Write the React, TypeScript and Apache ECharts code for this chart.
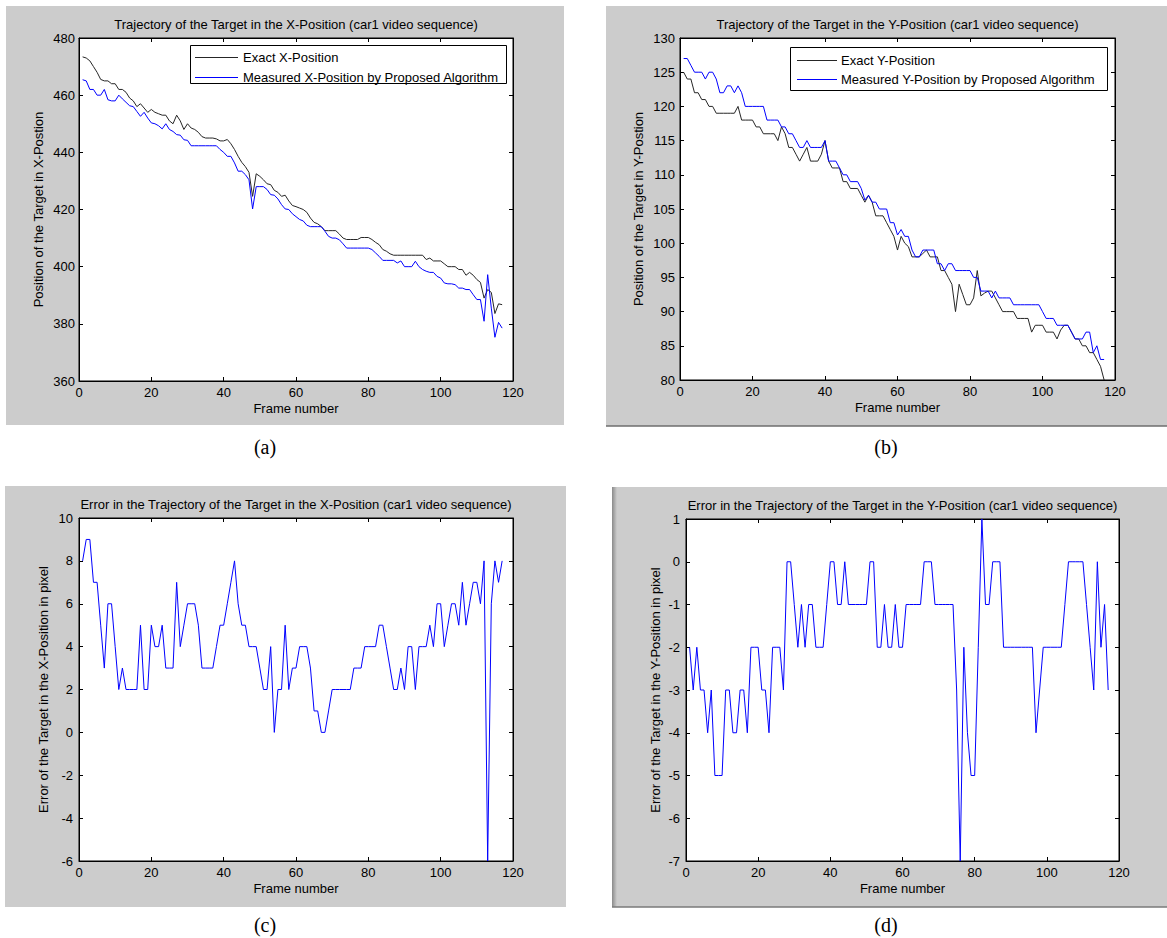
import React, { useEffect, useRef } from "react";
import * as echarts from "echarts";

// ---------------- data (frame numbers 1..117) ----------------
const exactX = [
  473.4, 473, 472, 470, 468, 465.5, 465, 465, 464, 464,
  462, 462, 461, 459, 458, 456, 457, 455.5, 454, 455,
  454, 453.5, 453, 453, 451, 450, 453, 451, 448, 450,
  448.5, 448, 447, 445.5, 445, 445, 445, 444.7, 444, 444,
  444.5, 443, 441, 438.6, 436.5, 435, 433, 424.6, 432.5, 431.6,
  430.4, 429, 428.7, 426.7, 426, 424.6, 425, 423, 421.4, 421,
  420.5, 420, 419, 417, 415.5, 415, 414, 412.6, 412.6, 412.6,
  412.6, 411.4, 410, 409.5, 409.5, 409.5, 409.5, 410.2, 410.2, 410.2,
  409.5, 408.5, 407.7, 406, 405.4, 404.5, 404, 404, 404, 404,
  404, 404, 404, 404, 404, 402.5, 403, 402, 402, 402,
  401, 400, 400, 400, 399, 399, 397, 398, 397, 395.5,
  394.5, 389, 392, 391, 383.6, 387, 386.7,
];
const measuredX = [
  465.4, 465, 462, 462, 460, 460, 462, 458.4, 458, 458,
  460, 458.7, 457.5, 456.3, 456, 454.3, 452.6, 454, 452, 450.3,
  450, 449.3, 448.2, 450, 448, 447.3, 446.2, 446, 444.4, 444.2,
  442.3, 442.3, 442.3, 442.3, 442.3, 442.3, 442.3, 442.3, 441, 440,
  438.6, 438.6, 436.3, 433.4, 433.4, 432.2, 430.4, 420.2, 428, 428,
  428, 427, 425.2, 425, 423.7, 421.7, 420.2, 420, 418.5, 417.5,
  416.5, 416, 414.5, 414, 414, 414, 414, 412.4, 410.6, 410,
  410, 409.4, 408, 406.5, 406.5, 406.5, 406.5, 406.5, 406.5, 406.5,
  406, 404.8, 403.6, 402.2, 402.2, 402.2, 402.2, 401.3, 402, 400,
  400, 400, 401.9, 400, 399, 398.4, 398, 398, 396.6, 396,
  394.3, 394, 394, 393.7, 392.5, 392.5, 392, 392, 390.2, 388.5,
  388.5, 380.9, 397.2, 385.5, 375.3, 380.5, 378.5,
];
const errorX = [
  8, 9, 9, 7, 7, 5, 3, 6, 6, 4,
  2, 3, 2, 2, 2, 2, 5, 2, 2, 5,
  4, 4, 5, 3, 3, 3, 7, 4, 5, 6,
  6, 6, 5, 3, 3, 3, 3, 4, 5, 5,
  6, 7, 8, 6, 5, 5, 4, 4, 4, 3,
  2, 2, 4, 0, 2, 2, 5, 2, 3, 3,
  4, 4, 4, 3, 1, 1, 0, 0, 1, 2,
  2, 2, 2, 2, 2, 3, 3, 3, 4, 4,
  4, 4, 5, 5, 4, 3, 2, 2, 3, 2,
  4, 4, 2, 4, 4, 4, 5, 4, 6, 6,
  4, 5, 6, 6, 5, 7, 5, 6, 7, 7,
  6, 8, -6, 6, 8, 7, 8,
];
const exactY = [
  125, 124, 124, 122, 122, 121, 121, 120, 120, 119,
  119, 119, 119, 119, 119, 120, 118, 118, 118, 118,
  117, 117, 116, 116, 116, 116, 115, 117, 116, 114,
  114, 113, 112, 113, 114, 112, 112, 112, 113, 115,
  112, 111, 111, 111, 109, 109, 108, 108, 108, 107,
  106, 107, 106, 104, 104, 104, 103, 102, 101, 99,
  101, 100, 99.5, 98, 98, 98, 98.5, 99, 98, 98,
  98, 96, 96, 95, 94, 90, 94, 92.5, 91, 91,
  92, 96, 92.3, 92.7, 93, 93, 92, 91, 90, 90,
  90, 90, 89, 89, 89, 89, 87, 88, 88, 88,
  87, 87, 87, 86, 87.3, 88, 88, 87, 86, 86,
  85, 85, 84, 84, 83, 82, 80,
];
const measuredY = [
  127, 127, 126, 125, 125, 125, 124, 125, 125, 124,
  122, 122, 123, 123, 122, 123, 122, 120, 120, 120,
  120, 120, 120, 118, 118, 118, 118, 117, 117, 116,
  116, 115, 114, 114, 115, 114, 114, 114, 114, 115,
  112, 112, 112, 111, 110, 110, 109, 109, 109, 108,
  106.3, 107, 106, 106, 105, 105, 105, 103, 103, 101.2,
  102, 101, 101, 99, 98, 98, 99, 99, 99, 99,
  97, 97, 96, 97, 97, 96, 96, 96, 96, 96,
  95, 95, 93, 93, 93, 92, 93, 92, 92, 92,
  92, 91, 91, 91, 91, 91, 91, 91, 91, 90,
  89, 89, 89, 88, 88, 88, 88, 87, 86, 86,
  86, 87, 87, 84, 85, 83, 83,
];
const errorY = [
  -2, -3, -2, -3, -3, -4, -3, -5, -5, -5,
  -3, -3, -4, -4, -3, -3, -4, -2, -2, -2,
  -3, -3, -4, -2, -2, -2, -3, 0, 0, -1,
  -2, -1, -2, -1, -1, -2, -2, -2, -1, 0,
  0, -1, -1, 0, -1, -1, -1, -1, -1, -1,
  0, 0, -2, -2, -1, -2, -2, -1, -2, -2,
  -1, -1, -1, -1, -1, 0, 0, 0, -1, -1,
  -1, -1, -1, -1, -3, -7, -2, -4, -5, -5,
  -2, 1, -1, -1, 0, 0, 0, -2, -2, -2,
  -2, -2, -2, -2, -2, -2, -4, -3, -2, -2,
  -2, -2, -2, -2, -1, 0, 0, 0, 0, 0,
  -1, -2, -3, 0, -2, -1, -3,
];

const titles = [
  "Trajectory of the Target in the X-Position (car1 video sequence)",
  "Trajectory of the Target in the Y-Position (car1 video sequence)",
  "Error in the Trajectory of the Target in the X-Position (car1 video sequence)",
  "Error in the Trajectory of the Target in the Y-Position (car1 video sequence)",
];
const yNames = [
  "Position of the Target in X-Postion",
  "Position of the Target in Y-Postion",
  "Error of the Target in the X-Position in pixel",
  "Error of the Target in the Y-Position in pixel",
];
const captions = ["(a)", "(b)", "(c)", "(d)"];
const xName = "Frame number";
const xRange = [0, 120, 20];
const yRanges = [
  [360, 480, 20],
  [80, 130, 5],
  [-6, 10, 2],
  [-7, 1, 1],
];
const legendNames = [
  ["Exact X-Position", "Measured X-Position by Proposed Algorithm"],
  ["Exact Y-Position", "Measured Y-Position by Proposed Algorithm"],
];

// ---------------- layout ----------------
const FONT = '"Liberation Sans", Arial, Helvetica, sans-serif';
const SERIF = '"Liberation Serif", "Times New Roman", serif';
const GRAY = "#cccccc";
const BLACK_LINE = "#262626";
const BLUE_LINE = "#0000ff";
const grids = [
  { left: 79, top: 38, width: 434, height: 343 },
  { left: 680, top: 38, width: 435, height: 342 },
  { left: 79, top: 518, width: 434, height: 343 },
  { left: 686, top: 519, width: 433, height: 342 },
];
const yNameGaps = [34, 35, 29, 24];
const yLabelMargins = [4, 5, 6, 6];
const panelsBg = [
  { x: 6, y: 6, w: 558, h: 419 },
  { x: 606, y: 6, w: 561, h: 420 },
  { x: 5, y: 486, w: 561, h: 421 },
  { x: 612, y: 487, w: 555, h: 420 },
];
const captionPos = [
  [265, 447],
  [886, 447],
  [265, 925],
  [886, 925],
];
// legend boxes: box rect, sample line x-range, text x, row y's
const legendBoxes = [
  { x: 190, y: 45, w: 316, h: 38, lx1: 195, lx2: 238, tx: 243, rows: [57, 77] },
  { x: 790, y: 47, w: 317, h: 43, lx1: 797, lx2: 837, tx: 841, rows: [60, 79] },
];

const pairs = (vals: number[]) => vals.map((v, i) => [i + 1, v]);

function buildOption() {
  const xAxis: any[] = [];
  const yAxis: any[] = [];
  grids.forEach((g, i) => {
    const [ymin, ymax, yint] = yRanges[i];
    const common = {
      gridIndex: i,
      type: "value",
      axisLine: { show: true, onZero: false, lineStyle: { color: "#000", width: 1 } },
      axisTick: { show: true, inside: true, length: 4, lineStyle: { color: "#000" } },
      splitLine: { show: false },
    };
    xAxis.push({
      ...common,
      position: "bottom",
      min: xRange[0],
      max: xRange[1],
      interval: xRange[2],
      name: xName,
      nameLocation: "middle",
      nameGap: 21,
      nameTextStyle: { fontFamily: FONT, fontSize: 13, color: "#000" },
      axisLabel: { fontFamily: FONT, fontSize: 13, color: "#000", margin: 5 },
    });
    xAxis.push({
      ...common,
      position: "top",
      min: xRange[0],
      max: xRange[1],
      interval: xRange[2],
      axisLabel: { show: false },
    });
    yAxis.push({
      ...common,
      position: "left",
      min: ymin,
      max: ymax,
      interval: yint,
      name: yNames[i],
      nameLocation: "middle",
      nameGap: yNameGaps[i],
      nameTextStyle: { fontFamily: FONT, fontSize: 13, color: "#000" },
      axisLabel: { fontFamily: FONT, fontSize: 13, color: "#000", margin: yLabelMargins[i] },
    });
    yAxis.push({
      ...common,
      position: "right",
      min: ymin,
      max: ymax,
      interval: yint,
      axisLabel: { show: false },
    });
  });

  const line = (name: string, data: number[], idx: number, color: string) => ({
    type: "line",
    name,
    data: pairs(data),
    xAxisIndex: idx * 2,
    yAxisIndex: idx * 2,
    showSymbol: false,
    symbol: "none",
    lineStyle: { color, width: 1 },
    itemStyle: { color },
    emphasis: { disabled: true },
    z: 3,
  });

  const series = [
    line(legendNames[0][0], exactX, 0, BLACK_LINE),
    line(legendNames[0][1], measuredX, 0, BLUE_LINE),
    line(legendNames[1][0], exactY, 1, BLACK_LINE),
    line(legendNames[1][1], measuredY, 1, BLUE_LINE),
    line("Error X", errorX, 2, BLUE_LINE),
    line("Error Y", errorY, 3, BLUE_LINE),
  ];

  const graphic: any[] = [];
  panelsBg.forEach((p) => {
    graphic.push({
      type: "rect",
      z: -100,
      silent: true,
      shape: { x: p.x, y: p.y, width: p.w, height: p.h },
      style: { fill: GRAY },
    });
  });
  // darker frame edges of panels (b) and (d)
  graphic.push({
    type: "line", z: -90, silent: true,
    shape: { x1: 606, y1: 426, x2: 1167, y2: 426 },
    style: { stroke: "#6e6e6e", lineWidth: 1.5 },
  });
  graphic.push({
    type: "rect", z: -90, silent: true,
    shape: { x: 612, y: 487, width: 5, height: 420 },
    style: {
      fill: new echarts.graphic.LinearGradient(0, 0, 1, 0, [
        { offset: 0, color: "#8a8a8a" },
        { offset: 1, color: GRAY },
      ]),
    },
  });
  graphic.push({
    type: "line", z: -90, silent: true,
    shape: { x1: 612, y1: 907, x2: 1167, y2: 907 },
    style: { stroke: "#7a7a7a", lineWidth: 1.5 },
  });
  grids.forEach((g, i) => {
    graphic.push({
      type: "text",
      silent: true,
      z: 10,
      style: {
        text: titles[i],
        x: g.left + g.width / 2,
        y: g.top - 14,
        textAlign: "center",
        textVerticalAlign: "middle",
        font: `13px ${FONT}`,
        fill: "#000",
      },
    });
    graphic.push({
      type: "text",
      silent: true,
      z: 10,
      style: {
        text: captions[i],
        x: captionPos[i][0],
        y: captionPos[i][1],
        textAlign: "center",
        textVerticalAlign: "middle",
        font: `20px ${SERIF}`,
        fill: "#000",
      },
    });
  });
  // legends (MATLAB style boxes)
  legendBoxes.forEach((b, li) => {
    graphic.push({
      type: "rect",
      z: 100,
      silent: true,
      shape: { x: b.x + 0.5, y: b.y + 0.5, width: b.w, height: b.h },
      style: { fill: "#fff", stroke: "#000", lineWidth: 1 },
    });
    const colors = [BLACK_LINE, BLUE_LINE];
    b.rows.forEach((ry, ri) => {
      graphic.push({
        type: "line",
        z: 101,
        silent: true,
        shape: { x1: b.lx1, y1: ry + 0.5, x2: b.lx2, y2: ry + 0.5 },
        style: { stroke: colors[ri], lineWidth: 1 },
      });
      graphic.push({
        type: "text",
        z: 101,
        silent: true,
        style: {
          text: legendNames[li][ri],
          x: b.tx,
          y: ry + 0.5,
          textAlign: "left",
          textVerticalAlign: "middle",
          font: `13px ${FONT}`,
          fill: "#000",
        },
      });
    });
  });

  return {
    animation: false,
    backgroundColor: "#ffffff",
    grid: grids.map((g) => ({
      ...g,
      show: true,
      backgroundColor: "#ffffff",
      borderColor: "#000",
      borderWidth: 1,
      containLabel: false,
      z: 0,
    })),
    xAxis,
    yAxis,
    graphic,
    series,
  };
}

export default function App() {
  const ref = useRef<HTMLDivElement>(null);
  useEffect(() => {
    document.body.style.margin = "0";
    if (!ref.current) return;
    const chart = echarts.init(ref.current, null, { renderer: "svg" });
    chart.setOption(buildOption() as any);
    return () => chart.dispose();
  }, []);
  return <div ref={ref} style={{ width: 1167, height: 938 }} />;
}
